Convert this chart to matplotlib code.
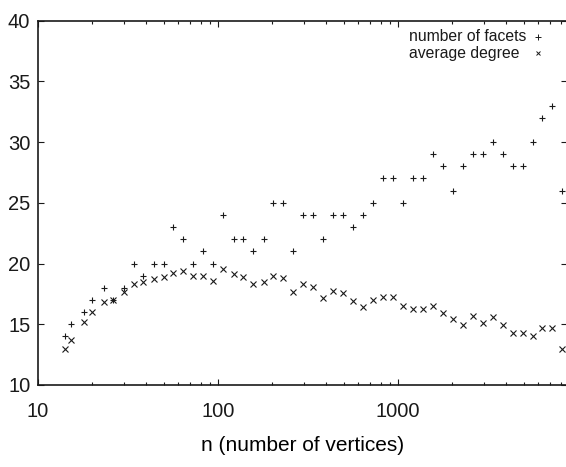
import numpy as np
from matplotlib import pyplot as plt, ticker

plt.rcParams.update({'font.family': ['Liberation Sans', 'DejaVu Sans'],
                     'text.color': "#1a1a1a",
                     'axes.edgecolor': "#1a1a1a",
                     'xtick.color': "#1a1a1a",
                     'ytick.color': "#1a1a1a",
                     'font.size': 14.5})

# n (number of vertices)
n_vertices = [14.1, 15.2, 18.1, 20.0, 23.2, 26.2, 30.1, 34.3, 38.2, 44.3,
              50.1, 56.2, 64.2, 72.9, 82.8, 94.2, 107, 122, 138, 157,
              179, 203, 231, 262, 298, 338, 385, 437, 497, 565,
              642, 730, 829, 935, 1062, 1208, 1372, 1560, 1772, 2014,
              2288, 2600, 2955, 3358, 3817, 4337, 4929, 5600, 6283, 7140,
              8110]

facets = [14, 15, 16, 17, 18, 17, 18, 20, 19, 20,
          20, 23, 22, 20, 21, 20, 24, 22, 22, 21,
          22, 25, 25, 21, 24, 24, 22, 24, 24, 23,
          24, 25, 27, 27, 25, 27, 27, 29, 28, 26,
          28, 29, 29, 30, 29, 28, 28, 30, 32, 33,
          26]

avg_degree = [13.0, 13.7, 15.2, 16.0, 16.8, 17.0, 17.65, 18.3, 18.45, 18.7,
              18.9, 19.25, 19.4, 18.95, 18.95, 18.55, 19.57, 19.1, 18.9, 18.29,
              18.5, 19.0, 18.83, 17.68, 18.29, 18.07, 17.19, 17.76, 17.6, 16.91,
              16.44, 17.0, 17.27, 17.27, 16.5, 16.23, 16.23, 16.5, 15.9, 15.43,
              14.94, 15.68, 15.08, 15.57, 14.94, 14.3, 14.3, 14.03, 14.66, 14.66,
              12.99]

series = [('number of facets', facets, '+', 5.0),
          ('average degree', avg_degree, 'x', 4.2)]

W, H = 566, 467
fig = plt.figure(figsize=(W / 100, H / 100), dpi=100)
# axes box in pixels: left 38, right ~566.5, top 20.5, bottom 385
ax = fig.add_axes([38 / W, (H - 385) / H, 528.5 / W, 364.5 / H])

for label, vals, mk, ms in series:
    ax.plot(n_vertices, vals, ls='none', marker=mk, ms=ms, mew=0.8,
            color='#1a1a1a')

ax.set_xscale('log')
ax.set_xlim(10, 10 ** (1 + 528.5 / 180))
ax.set_ylim(10, 40)

ax.xaxis.set_major_locator(ticker.FixedLocator([10, 100, 1000]))
ax.xaxis.set_major_formatter(ticker.FixedFormatter(['10', '100', '1000']))
ax.xaxis.set_minor_locator(ticker.LogLocator(base=10, subs=np.arange(2, 10)))
ax.xaxis.set_minor_formatter(ticker.NullFormatter())
ax.yaxis.set_major_locator(ticker.MultipleLocator(5))

ax.tick_params(which='both', direction='in', top=True, right=True, width=0.8)
ax.tick_params(which='major', length=4.5)
ax.tick_params(which='minor', length=2.2)
ax.tick_params(axis='x', which='major', pad=12.5)
ax.tick_params(axis='y', which='major', pad=5.5)

for s in ax.spines.values():
    s.set_linewidth(1.2)

ax.set_xlabel('n (number of vertices)', fontsize=15)
ax.xaxis.set_label_coords(0.5, -0.165)
ax.xaxis.label.set_va('center')

# gnuplot-style key: left-aligned text, sample marker on the right
key_rows = [0.9556, 0.910]
for (label, vals, mk, ms), ky in zip(series, key_rows):
    ax.text(0.702, ky, label, transform=ax.transAxes, fontsize=11.3,
            ha='left', va='center')
    ax.plot([0.947], [ky], transform=ax.transAxes, ls='none', marker=mk,
            ms=ms * 0.85, mew=0.7, color='#1a1a1a', clip_on=False)

fig.savefig('out.png', dpi=100)
